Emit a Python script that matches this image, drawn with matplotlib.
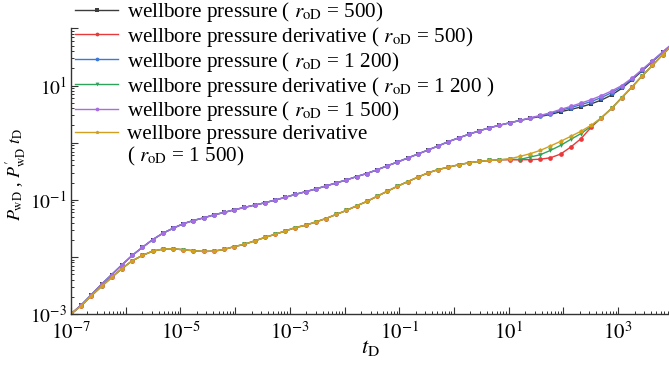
import numpy as np
import matplotlib
matplotlib.use('Agg')
import matplotlib.pyplot as plt
from matplotlib.lines import Line2D
from matplotlib.ticker import FixedLocator, LogLocator, FuncFormatter, NullFormatter

plt.rcParams.update({
    'font.family': 'Liberation Serif',
    'mathtext.fontset': 'stix',
    'axes.spines.top': False,
    'axes.spines.right': False,
})

# ── data (log10 values) ──────────────────────────────────────
# 60 sample times, 1e-7 .. 1e4
t_D = np.logspace(-7, 4, 60)

# pressure, common part for all r_oD (points 0..44)
p_common = [-3.00, -2.845, -2.663, -2.48, -2.31, -2.14, -1.975, -1.834, -1.70, -1.587,
            -1.50, -1.42, -1.363, -1.317, -1.265, -1.222, -1.176, -1.134, -1.093, -1.053,
            -1.005, -0.958, -0.905, -0.859, -0.811, -0.758, -0.705, -0.653, -0.594, -0.54,
            -0.476, -0.406, -0.34, -0.27, -0.20, -0.129, -0.058, 0.018, 0.083, 0.146,
            0.206, 0.259, 0.305, 0.347, 0.388]
# pressure tails (points 45..59)
p_tail_500 = [0.425, 0.458, 0.494, 0.541, 0.582, 0.625, 0.68, 0.746, 0.834, 0.952,
              1.099, 1.258, 1.42, 1.58, 1.735]
p_tail_1200 = [0.43, 0.468, 0.51, 0.565, 0.615, 0.665, 0.72, 0.79, 0.875, 0.98,
               1.115, 1.27, 1.43, 1.585, 1.74]
p_tail_1500 = [0.435, 0.476, 0.524, 0.582, 0.635, 0.693, 0.753, 0.824, 0.905, 1.0,
               1.129, 1.282, 1.434, 1.587, 1.74]

# derivative, common part (points 0..42)
d_common = [-3.00, -2.857, -2.68, -2.517, -2.358, -2.205, -2.069, -1.975, -1.90, -1.864,
            -1.857, -1.875, -1.892, -1.905, -1.90, -1.87, -1.82, -1.78, -1.72, -1.66,
            -1.605, -1.547, -1.487, -1.446, -1.388, -1.328, -1.257, -1.187, -1.106, -1.03,
            -0.94, -0.852, -0.764, -0.683, -0.605, -0.529, -0.471, -0.429, -0.388, -0.353,
            -0.328, -0.312, -0.30]
# derivative tails (points 43..59)
d_tail_500 = [-0.30, -0.30, -0.298, -0.29, -0.265, -0.20, -0.076, 0.07, 0.27, 0.436,
              0.60, 0.788, 0.975, 1.17, 1.353, 1.54, 1.72]
d_tail_1200 = [-0.29, -0.295, -0.252, -0.212, -0.136, -0.048, 0.058, 0.159, 0.288, 0.436,
               0.60, 0.788, 0.975, 1.17, 1.353, 1.54, 1.72]
d_tail_1500 = [-0.282, -0.242, -0.194, -0.136, -0.058, 0.023, 0.111, 0.20, 0.305, 0.436,
               0.60, 0.788, 0.975, 1.17, 1.353, 1.54, 1.72]

r = r'$r_{\rm oD}$'
series = [
    (f'wellbore pressure ( {r} = 500)', p_common + p_tail_500, '#3c3c3c', 's'),
    (f'wellbore pressure derivative ( {r} = 500)', d_common + d_tail_500, '#e8393b', 'o'),
    (f'wellbore pressure ( {r} = 1 200)', p_common + p_tail_1200, '#3b78d8', 'o'),
    (f'wellbore pressure derivative ( {r} = 1 200 )', d_common + d_tail_1200, '#2ea35c', 'v'),
    (f'wellbore pressure ( {r} = 1 500)', p_common + p_tail_1500, '#a66ee0', 'o'),
    ('wellbore pressure derivative', d_common + d_tail_1500, '#d2a021', 'p'),
]

# ── figure ───────────────────────────────────────────────────
fig = plt.figure(figsize=(6.69, 3.69), dpi=100)
ax = fig.add_axes([0.106, 0.149, 0.894, 0.774])

handles = []
for label, logv, color, mk in series:
    ln, = ax.plot(t_D, 10 ** np.array(logv), color=color, lw=1.0,
                  marker=mk, markersize=3.4, markeredgewidth=0, label=label)
    handles.append(ln)

ax.set_xscale('log')
ax.set_yscale('log')
ax.set_xlim(1e-7, 10 ** 3.93)
ax.set_ylim(1e-3, 1e2)

def odd_dec(v, _):
    e = int(round(np.log10(v)))
    return r'$10^{%d}$' % e if e % 2 else ''

for axis, lo, hi in [(ax.xaxis, -7, 4), (ax.yaxis, -3, 2)]:
    axis.set_major_locator(FixedLocator([10.0 ** e for e in range(lo, hi + 1)]))
    axis.set_major_formatter(FuncFormatter(odd_dec))
    axis.set_minor_locator(LogLocator(base=10, subs=np.arange(2, 10), numticks=30))
    axis.set_minor_formatter(NullFormatter())

ax.tick_params(which='both', direction='in', colors='#333333', labelcolor='black')
ax.tick_params(which='major', length=5, width=0.8)
ax.tick_params(which='minor', length=2.5, width=0.7)
ax.tick_params(axis='x', pad=6, labelsize=15)
ax.tick_params(axis='y', pad=3, labelsize=14)
for s in ['left', 'bottom']:
    ax.spines[s].set_color('#333333')
    ax.spines[s].set_linewidth(1.0)

ax.set_xlabel(r'$t_{\rm D}$', fontsize=16)
ax.xaxis.set_label_coords(0.5, -0.085)
ax.set_ylabel(r"$P_{\rm wD}$ , $P^{\prime}_{\rm wD}\ t_{\rm D}$", fontsize=13)
ax.yaxis.set_label_coords(-0.072, 0.49)

# extra legend row for wrapped last label
handles.append(Line2D([], [], color='none', label=f'( {r} = 1 500)'))
fig.legend(handles=handles, loc='upper left', bbox_to_anchor=(0.112, 1.0),
           frameon=False, fontsize=15.2, handlelength=2.05, handletextpad=0.4,
           labelspacing=0.04, borderpad=0.0, borderaxespad=0.0, markerscale=0.8)

fig.savefig('out.png', dpi=100)
